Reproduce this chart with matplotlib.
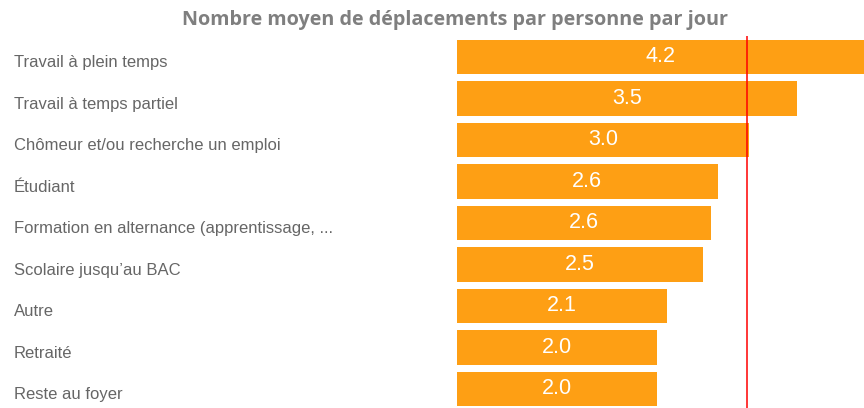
import matplotlib
matplotlib.use("Agg")
import matplotlib.pyplot as plt
import matplotlib.transforms as mtrans

categories = [
    "Travail à plein temps",
    "Travail à temps partiel",
    "Chômeur et/ou recherche un emploi",
    "Étudiant",
    "Formation en alternance (apprentissage, ...",
    "Scolaire jusqu’au BAC",
    "Autre",
    "Retraité",
    "Reste au foyer",
]
values = [4.22, 3.47, 2.98, 2.66, 2.59, 2.51, 2.14, 2.04, 2.04]
value_labels = ["4.2", "3.5", "3.0", "2.6", "2.6", "2.5", "2.1", "2.0", "2.0"]
average = 2.96
title = "Nombre moyen de déplacements par personne par jour"

W, H, DPI = 864, 408, 100
fig = plt.figure(figsize=(W / DPI, H / DPI), dpi=DPI)

ax_left_px, ax_top_px = 457, 36.25
ax = fig.add_axes([ax_left_px / W, 0, (W - ax_left_px) / W, (H - ax_top_px) / H])

xmax = (W - ax_left_px) / 98.0
pos = list(range(len(categories)))
ax.barh(pos, values, height=0.84, color="#FE9F14", edgecolor="none")
ax.axvline(average, color="#FF0000", lw=1.1)

ax.set_xlim(0, xmax)
ax.set_ylim((H - 57) / 41.5, -0.5)

for p, v, lab in zip(pos, values, value_labels):
    ax.text(min(v, xmax) / 2, p - 0.01, lab, ha="center", va="center",
            color="white", fontsize=15.5, family="Liberation Sans")

ax.set_yticks(pos)
ax.set_yticklabels(categories, ha="left", fontsize=12, color="#666666",
                   family="Liberation Sans")
ax.tick_params(axis="y", length=0, pad=(ax_left_px - 14) * 72 / DPI)
offset = mtrans.ScaledTranslation(0, -4 / DPI, fig.dpi_scale_trans)
for t in ax.get_yticklabels():
    t.set_transform(t.get_transform() + offset)

ax.set_xticks([])
for s in ax.spines.values():
    s.set_visible(False)

fig.text(455 / W, 1 - 20.5 / H, title, ha="center", va="center", fontsize=14.2,
         fontweight="bold", color="#7F7F7F", family="Open Sans")

fig.savefig("out.png", dpi=DPI)
